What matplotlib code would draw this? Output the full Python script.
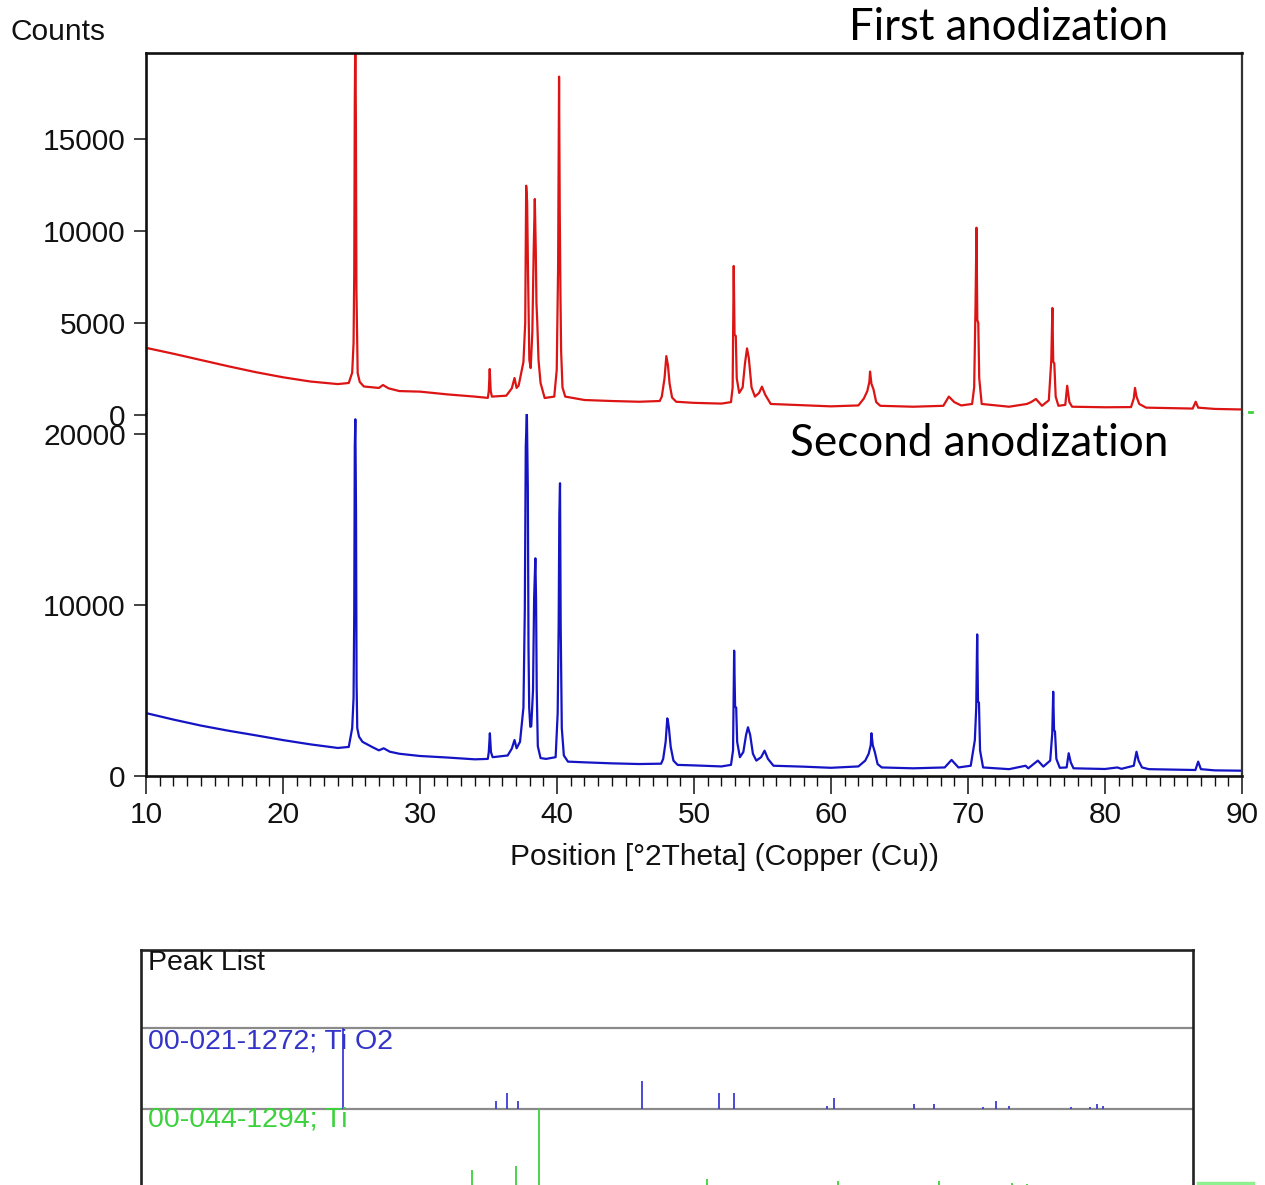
import matplotlib
matplotlib.use("Agg")
import matplotlib.pyplot as plt
from matplotlib.ticker import FixedLocator, MultipleLocator
from matplotlib.lines import Line2D

# ------------------------------------------------------------------ data
# First anodization pattern (2theta, counts)
first_2theta = [10.0, 12.0, 14.0, 16.0, 18.0, 20.0, 22.0, 24.0, 24.8,
                25.05, 25.15, 25.20, 25.24, 25.28, 25.32, 25.36, 25.45, 25.60, 25.90,
                27.0, 27.3, 27.7, 28.5, 30.0, 32.0, 34.0, 34.95,
                35.02, 35.09, 35.16, 35.25, 36.3,
                36.7, 36.9, 37.05, 37.2,
                37.55, 37.68, 37.75, 37.82, 37.88, 37.98, 38.08,
                38.2, 38.3, 38.38, 38.45, 38.5, 38.56, 38.65, 38.8, 39.1, 39.8,
                39.98, 40.08, 40.15, 40.2, 40.25, 40.3, 40.4, 40.6,
                42.0, 44.0, 46.0, 47.5,
                47.65, 47.85, 47.98, 48.03, 48.1, 48.22, 48.4, 48.7,
                50.0, 52.0, 52.7,
                52.82, 52.9, 52.96, 53.05, 53.12, 53.3,
                53.55, 53.72, 53.87, 54.0, 54.2, 54.45,
                54.75, 54.96, 55.2, 55.6,
                57.0, 60.0, 62.0,
                62.4, 62.65, 62.8, 62.85, 62.95, 63.1, 63.3, 63.6,
                66.0, 68.2, 68.6, 69.0, 69.5, 70.3,
                70.45, 70.55, 70.62, 70.68, 70.75, 70.82, 71.0,
                73.0, 74.3, 74.6, 74.96, 75.4, 75.9,
                76.08, 76.16, 76.22, 76.3, 76.4, 76.6, 77.1, 77.24, 77.4, 77.6,
                80.0, 81.9, 82.1, 82.19, 82.3, 82.5, 83.0,
                86.4, 86.62, 86.8, 88.0, 90.0]
first_counts = [3650, 3330, 2990, 2650, 2330, 2050, 1820, 1680, 1740,
                2300, 3900, 7700, 16950, 21000, 16000, 6800, 2280, 1800, 1550,
                1470, 1630, 1450, 1300, 1270, 1120, 1000, 930,
                1300, 2500, 1300, 1000, 1050,
                1450, 2010, 1470, 1600,
                2880, 5000, 12460, 11580, 8000, 3000, 2550,
                4500, 9000, 11740, 9000, 6090, 5050, 3000, 1740, 924, 1000,
                2450, 8000, 18390, 11140, 6700, 3500, 1500, 1000,
                815, 760, 720, 760,
                1000, 2000, 3200, 3000, 2700, 1700, 950, 720,
                660, 620, 700,
                1500, 8100, 4350, 4300, 2000, 1200,
                1500, 2800, 3620, 3100, 1500, 1000,
                1200, 1540, 1100, 600,
                560, 470, 520,
                900, 1300, 1800, 2360, 1700, 1400, 700, 500,
                450, 500, 1000, 700, 520, 600,
                1500, 6000, 10180, 5160, 5000, 2000, 600,
                450, 600, 700, 870, 500, 800,
                3000, 5815, 2900, 2800, 1000, 500, 550, 1590, 700, 450,
                420, 430, 900, 1470, 1000, 600, 400,
                350, 720, 400, 330, 300]

# Second anodization pattern (2theta, counts)
second_2theta = [10.0, 12.0, 14.0, 16.0, 18.0, 20.0, 22.0, 24.0, 24.8,
                 25.05, 25.15, 25.20, 25.24, 25.28, 25.33, 25.37, 25.42, 25.55, 25.8, 26.5,
                 27.0, 27.35, 27.8, 28.5, 30.0, 32.0, 34.0, 34.95,
                 35.02, 35.1, 35.18, 35.3, 36.4,
                 36.7, 36.9, 37.05, 37.3,
                 37.55, 37.65, 37.72, 37.8, 37.87, 37.92, 37.97, 38.05, 38.12,
                 38.25, 38.33, 38.42, 38.47, 38.52, 38.6, 38.8, 39.2, 39.9,
                 40.05, 40.12, 40.17, 40.22, 40.27, 40.35, 40.5, 40.8,
                 42.0, 44.0, 46.0, 47.6,
                 47.75, 47.93, 48.05, 48.1, 48.17, 48.3, 48.5, 48.8,
                 50.0, 52.0, 52.7,
                 52.85, 52.93, 53.0, 53.08, 53.15, 53.35,
                 53.6, 53.8, 53.94, 54.1, 54.3, 54.55,
                 54.9, 55.15, 55.4, 55.8,
                 58.0, 60.0, 62.0,
                 62.5, 62.75, 62.9, 62.95, 63.05, 63.2, 63.4, 63.7,
                 66.0, 68.3, 68.8, 69.3, 70.2,
                 70.5, 70.6, 70.67, 70.73, 70.8, 70.88, 71.1,
                 73.0, 74.2, 74.4, 75.1, 75.5, 76.0,
                 76.15, 76.22, 76.28, 76.35, 76.45, 76.7, 77.2, 77.35, 77.5, 77.7,
                 80.0, 80.9, 81.2, 82.1, 82.3, 82.45, 82.7, 83.2,
                 86.6, 86.8, 87.0, 88.0, 90.0]
second_counts = [3680, 3300, 2950, 2650, 2380, 2100, 1850, 1640, 1700,
                 2800, 4560, 9530, 19260, 20860, 15460, 5440, 2800, 2300, 2000, 1700,
                 1500, 1620, 1420, 1300, 1170, 1080, 975, 1000,
                 1400, 2500, 1400, 1100, 1200,
                 1600, 2105, 1620, 2000,
                 4000, 9700, 19260, 21300, 16840, 7560, 4000, 2880, 2900,
                 5030, 10410, 12730, 10410, 5030, 1740, 1050, 1000, 1100,
                 3680, 8730, 15260, 17120, 8730, 2800, 1200, 840,
                 800, 740, 700, 720,
                 1000, 2000, 3370, 3200, 2800, 1700, 900, 650,
                 620, 560, 650,
                 1500, 7330, 4055, 4000, 2000, 1100,
                 1400, 2400, 2850, 2400, 1300, 900,
                 1100, 1480, 1000, 600,
                 546, 480, 560,
                 900, 1300, 1800, 2500, 1800, 1400, 700, 500,
                 450, 500, 940, 500, 600,
                 2100, 4000, 8280, 4350, 4300, 1500, 500,
                 400, 600, 450, 900, 550, 900,
                 2500, 4930, 2690, 2600, 1000, 480, 500, 1330, 800, 450,
                 410, 500, 420, 600, 1420, 900, 500, 400,
                 350, 840, 400, 330, 310]

x_ticks = [10, 20, 30, 40, 50, 60, 70, 80, 90]
first_yticks = [0, 5000, 10000, 15000]
second_yticks = [0, 10000, 20000]

# Peak list: reference patterns (position, relative intensity %)
tio2_pos = [25.28, 36.95, 37.80, 38.58, 48.05, 53.89, 55.06, 62.12, 62.69,
            68.76, 70.31, 74.03, 75.03, 76.02, 80.73, 82.14, 82.66, 83.15]
tio2_int = [100, 10, 20, 10, 35, 20, 20, 4, 14, 6, 6, 2, 10, 4, 2, 2, 6, 4]
ti_pos = [35.09, 38.42, 40.17, 53.00, 62.95, 70.66, 74.16, 76.22, 77.37, 82.29, 86.76]
ti_int = [25, 30, 100, 13, 11, 11, 1, 9, 8, 1, 1]

# ------------------------------------------------------------------ layout
W, H = 1265, 1185
fig = plt.figure(figsize=(W / 100, H / 100), dpi=100)


def fx(px):
    return px / W


def fy(py):
    return 1 - py / H


SANS = ["Liberation Sans", "DejaVu Sans"]
TITLE = ["Lato", "DejaVu Sans"]
TICK_FS = 21.5
RED = "#dc1414"
BLUE = "#1414c4"

ax1 = fig.add_axes([fx(146), fy(415), fx(1242) - fx(146), fy(53) - fy(415)])
ax2 = fig.add_axes([fx(146), fy(776), fx(1242) - fx(146), fy(414) - fy(776)])

ax1.plot(first_2theta, first_counts, color=RED, lw=1.6)
ax2.plot(second_2theta, second_counts, color=BLUE, lw=1.6)

ax1.set_xlim(10, 90)
ax2.set_xlim(10, 90)
ax1.set_ylim(0, 362 / 92 * 5000)
ax2.set_ylim(0, 362 / 171 * 10000)

for ax in (ax1, ax2):
    for s in ax.spines.values():
        s.set_color("#111111")
    ax.spines["left"].set_linewidth(1.9)
    ax.spines["right"].set_linewidth(1.6)
    ax.spines["right"].set_color("#333333")
    ax.tick_params(axis="y", direction="out", length=8.5, width=1.1,
                   pad=6, labelsize=TICK_FS, colors="#111111")

ax1.spines["top"].set_linewidth(1.9)
ax1.spines["bottom"].set_linewidth(1.4)
ax2.spines["top"].set_visible(False)
ax2.spines["bottom"].set_linewidth(1.9)

ax1.yaxis.set_major_locator(FixedLocator(first_yticks))
ax2.yaxis.set_major_locator(FixedLocator(second_yticks))
ax1.tick_params(axis="x", bottom=False, labelbottom=False)

ax2.xaxis.set_major_locator(FixedLocator(x_ticks))
ax2.xaxis.set_minor_locator(MultipleLocator(1))
ax2.tick_params(axis="x", which="major", direction="out", length=13, width=1.1,
                pad=5, labelsize=TICK_FS, colors="#111111")
ax2.tick_params(axis="x", which="minor", direction="out", length=7, width=1.0,
                colors="#111111")

for ax in (ax1, ax2):
    for lab in ax.get_yticklabels() + ax.get_xticklabels():
        lab.set_family(SANS)

fig.text(fx(10), fy(32), "Counts", family=SANS, fontsize=TICK_FS,
         ha="left", va="center", color="#111111")
fig.text(fx(725), fy(857), "Position [°2Theta] (Copper (Cu))", family=SANS,
         fontsize=TICK_FS, ha="center", va="center", color="#111111")

t1 = fig.text(fx(1168), fy(40), "First anodization", family=TITLE, fontsize=31,
              ha="right", va="baseline", color="black")
t2 = fig.text(fx(1168), fy(456), "Second anodization", family=TITLE, fontsize=31,
              ha="right", va="baseline", color="black")

# fit title widths to the reference widths
fig.canvas.draw()
rend = fig.canvas.get_renderer()
for t, target in ((t1, 318), (t2, 376)):
    w = t.get_window_extent(rend).width
    t.set_fontsize(t.get_fontsize() * target / w)

# ------------------------------------------------------------------ peak list
ax3 = fig.add_axes([fx(141), fy(1195), fx(1193) - fx(141), fy(950) - fy(1195)])
ax3.set_xlim(9.9, 90)
row = 81.0
ax3.set_ylim((1190 - 1195) / row, (1190 - 950) / row)
ax3.set_xticks([])
ax3.set_yticks([])
for side in ("top", "left", "right"):
    ax3.spines[side].set_linewidth(1.9)
    ax3.spines[side].set_color("#222222")
ax3.spines["bottom"].set_visible(False)

ax3.axhline(1, color="#8a8a8a", lw=1.6)
ax3.axhline(2, color="#8a8a8a", lw=1.6)

ax3.vlines(tio2_pos, 1, [1 + v / 100 for v in tio2_int], color="#3c3cd8", lw=1.3)
ax3.vlines(ti_pos, 0, [v / 100 for v in ti_int], color="#3cd23c", lw=1.3)

fig.text(fx(148), fy(963), "Peak List", family=SANS, fontsize=20.5,
         ha="left", va="center", color="#111111")
fig.text(fx(148), fy(1042), "00-021-1272; Ti O2", family=SANS, fontsize=20.5,
         ha="left", va="center", color="#3434c8")
fig.text(fx(148), fy(1120), "00-044-1294; Ti", family=SANS, fontsize=20.5,
         ha="left", va="center", color="#3cd23c")

# small green marks at the right edge
fig.add_artist(Line2D([fx(1198), fx(1253)], [fy(1183), fy(1183)],
                      color="#8ef08e", lw=2.5))
fig.add_artist(Line2D([fx(1249), fx(1252)], [fy(412), fy(412)],
                      color="#3cd23c", lw=2))

fig.savefig("out.png", dpi=100)
